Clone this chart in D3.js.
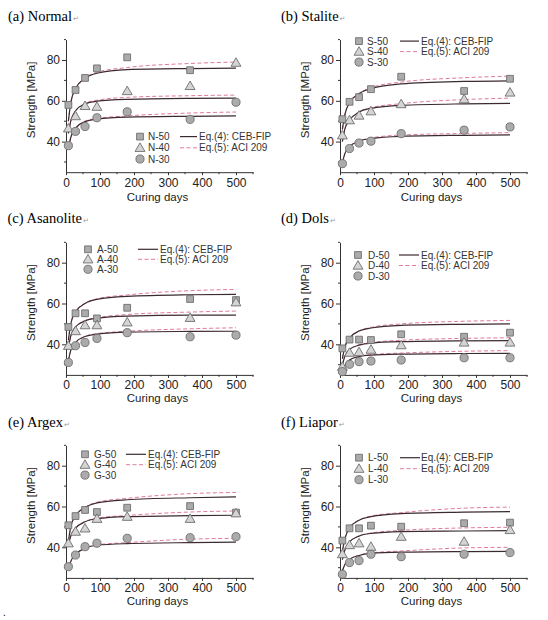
<!DOCTYPE html>
<html><head><meta charset="utf-8">
<script src="https://cdn.jsdelivr.net/npm/d3@7"></script>
<style>body{margin:0;background:#fff}svg{display:block}</style>
</head><body>
<svg id="chart" width="548" height="620"></svg>
<script>
// ---------- data ----------
const panelTitles = ["(a) Normal", "(b) Stalite", "(c) Asanolite", "(d) Dols", "(e) Argex", "(f) Liapor"];
const seriesPrefixes = ["N", "S", "A", "D", "G", "L"];
const gradeLabels = ["50", "40", "30"];
const legendEqLabels = ["Eq.(4): CEB-FIP", "Eq.(5): ACI 209"];
const testDays = [7, 28, 56, 91, 180, 365, 500];
const fitDays = [7, 14, 28, 56, 91, 180, 365, 500];
const xTickValues = [0, 100, 200, 300, 400, 500];
const xMinorTicks = [50, 150, 250, 350, 450, 550];
const yTickValues = [40, 60, 80];
const yMinorTicks = [30, 50, 70, 90];

const normalMeasured = [[58, 65.3, 71.2, 75.9, 81.3, 75, null], [46.5, 52.5, 57.5, 57.1, 64.8, 67.3, 78.7], [38, 45, 47.4, 51.7, 54.6, 50.9, 59.3]];
const normalCEB = [[50, 59, 66, 71, 73.5, 75.3, 75.8, 76], [44, 50, 55, 58.5, 59.8, 60.7, 61.2, 61.3], [36.5, 42, 46.5, 49.8, 51, 52, 52.4, 52.6]];
const normalACI = [[50, 59, 66, 71.2, 74, 76.3, 78.3, 79], [44, 50, 55, 58.7, 60.3, 61.7, 62.5, 62.8], [36.5, 42, 46.5, 50, 51.3, 52.6, 54, 54.5]];

const staliteMeasured = [[51, 59.5, 61.8, 65.7, 71.8, 64.8, 70.8], [43.1, 50.5, 52.8, 54.9, 58.4, 60.8, 64.1], [29.2, 36.6, 39.3, 40.2, 43.9, 45.6, 47.2]];
const staliteCEB = [[46, 53, 59, 63.5, 66, 68.3, 69.5, 69.8], [40, 46, 50.5, 54.5, 56.3, 57.8, 58.5, 58.7], [29.5, 34, 37.5, 40.2, 41.5, 42.6, 43.1, 43.3]];
const staliteACI = [[46, 53, 59, 63.7, 66.4, 69.2, 71.3, 72.1], [40, 46, 50.5, 54.6, 56.6, 58.6, 60.6, 61.3], [29.5, 34, 37.5, 40.3, 41.8, 43.2, 44, 44.4]];

const asanoliteMeasured = [[48.5, 55.2, 55.2, 52.7, 57.9, 62.2, 61.7], [39.3, 46.5, 49.4, 49.4, 50.8, 53, 60.6], [31.1, 39.3, 40.9, 42.9, 45.7, 43.7, 44.5]];
const asanoliteCEB = [[42, 50, 56, 60, 62, 63.5, 64.3, 64.5], [38, 44, 48.5, 51.5, 52.8, 53.8, 54.3, 54.3], [32, 37, 41, 43.8, 45, 46, 46.3, 46.4]];
const asanoliteACI = [[42, 50, 56, 60.2, 62.3, 64.2, 66.3, 66.9], [38, 44, 48.5, 51.6, 53, 54.6, 55.8, 56.3], [32, 37, 41, 43.9, 45.2, 46.4, 47.6, 48.1]];

const dolsMeasured = [[38, 42.3, 42.3, 42.1, 44.9, 43.7, 45.7], [29, 35.9, 36.2, 37.4, 39.6, 40.9, 40.9], [26.6, 30.2, 31.5, 31.8, 32.3, 33.4, 33.4]];
const dolsCEB = [[33, 38.5, 43, 46.5, 48, 49.3, 49.8, 50], [30, 34, 37.5, 39.6, 40.6, 41.3, 41.7, 41.8], [26.5, 29.5, 32.3, 34, 34.7, 35.2, 35.5, 35.6]];
const dolsACI = [[33, 38.5, 43, 46.6, 48.3, 50, 51.3, 51.7], [30, 34, 37.5, 39.7, 40.8, 42, 42.9, 43.2], [26.5, 29.5, 32.3, 34.1, 34.9, 35.7, 36.6, 36.9]];

const argexMeasured = [[50.8, 55.3, 58.3, 57.3, 59.4, 60.2, 57], [42, 47.7, 49.3, 54, 55, 54, 56.7], [30.5, 36.2, 40.3, 42, 44.4, 44.7, 45.2]];
const argexCEB = [[43, 50, 55.5, 59.5, 61.8, 63.3, 64.3, 64.7], [41, 45.5, 49.3, 52.5, 54, 55, 55.5, 55.7], [29, 33, 36.5, 39.5, 41, 41.8, 42.3, 42.5]];
const argexACI = [[43, 50, 55.5, 59.7, 62.1, 64, 66.3, 66.9], [41, 45.5, 49.3, 52.6, 54.3, 55.6, 57.3, 57.8], [29, 33, 36.5, 39.6, 41.2, 42.3, 44, 44.4]];

const liaporMeasured = [[43.3, 49.3, 49.3, 50.6, 50.1, 51.8, 52.1], [36.7, 41.1, 42, 40.3, 45.2, 42.8, 48.5], [26.8, 32.5, 33.5, 36.6, 35.4, 36.6, 37.4]];
const liaporCEB = [[38, 44, 49.5, 53.3, 55, 56.5, 57.2, 57.5], [34, 38.5, 42.5, 45.5, 46.8, 47.7, 48, 48.2], [28.5, 31.5, 34, 36, 37, 37.6, 37.9, 38]];
const liaporACI = [[38, 44, 49.5, 53.4, 55.3, 57, 59.2, 59.7], [34, 38.5, 42.5, 45.6, 47, 48.3, 49.5, 49.8], [28.5, 31.5, 34, 36.1, 37.2, 38.2, 39.7, 40]];

const measuredSets = [normalMeasured, staliteMeasured, asanoliteMeasured, dolsMeasured, argexMeasured, liaporMeasured];
const cebSets = [normalCEB, staliteCEB, asanoliteCEB, dolsCEB, argexCEB, liaporCEB];
const aciSets = [normalACI, staliteACI, asanoliteACI, dolsACI, argexACI, liaporACI];

// ---------- layout ----------
const colX = [66, 340];
const rowTop = [39.6, 242.3, 445.3];
const titlePos = [[8, 21], [281, 20.5], [7.5, 223], [281, 223], [8, 426.5], [281, 426.5]];
// legend: [markerX, labelX, lineX1, lineX2, eqX, row0Y, rowStep] relative to plot origin
const legendLayout = [
  [74, 82, 114, 131, 133, 97, 11.2],
  [19, 27, 60, 79, 81, 1.5, 10.5],
  [22, 31, 72, 92, 94, 7, 10],
  [18, 28, 59, 79, 81, 12.7, 10.5],
  [19, 28, 60, 80, 82, 9, 10.4],
  [19, 28, 60, 80, 81, 12.4, 11]
];
const plotW = 187, plotH = 132.6;
const markerFill = "#ababab", markerStroke = "#6e6e6e", triFill = "#d4d4d4";
const solidColor = "#3b2a30", dashColor = "#e27b95";

const svg = d3.select("#chart");
const x = d3.scaleLinear().domain([0, 550]).range([0, plotW]);
const y = d3.scaleLinear().domain([25, 90]).range([plotH, 0]);
const symbols = [d3.symbolSquare, d3.symbolTriangle, d3.symbolCircle];
const symSizes = [46, 42, 52];

function drawMarker(g, k, cx, cy) {
  g.append("path")
    .attr("d", d3.symbol().type(symbols[k]).size(symSizes[k])())
    .attr("transform", `translate(${cx},${cy})` + (k === 1 ? " translate(0,0.8)" : ""))
    .attr("fill", k === 1 ? triFill : markerFill)
    .attr("stroke", markerStroke)
    .attr("stroke-width", 0.9);
}

panelTitles.forEach((title, p) => {
  const ox = colX[p % 2], oy = rowTop[Math.floor(p / 2)];
  const g = svg.append("g").attr("transform", `translate(${ox},${oy})`);

  // title
  const t = svg.append("text").attr("x", titlePos[p][0]).attr("y", titlePos[p][1])
    .attr("font-family", "'Liberation Serif','Times New Roman',serif").attr("font-size", 14.5).attr("fill", "#000")
    .text(title);
  t.append("tspan").attr("font-family", "'DejaVu Sans',sans-serif").attr("font-size", 7).attr("fill", "#999").attr("dx", 1).text("↵");

  // axes
  const xa = g.append("g").attr("transform", `translate(0,${plotH})`)
    .call(d3.axisBottom(x).tickValues(xTickValues).tickSize(3).tickSizeOuter(0).tickPadding(3));
  const ya = g.append("g")
    .call(d3.axisLeft(y).tickValues(yTickValues).tickSize(4).tickSizeOuter(0).tickPadding(2));
  [xa, ya].forEach(a => {
    a.selectAll("text").attr("font-family", "'Liberation Sans',Arial,sans-serif").attr("font-size", 12).attr("fill", "#222");
    a.selectAll("line,path").attr("stroke", "#333");
  });
  xMinorTicks.forEach(v => g.append("line").attr("x1", x(v)).attr("x2", x(v)).attr("y1", plotH).attr("y2", plotH + 2).attr("stroke", "#333"));
  yMinorTicks.forEach(v => g.append("line").attr("x1", 0).attr("x2", -2).attr("y1", y(v)).attr("y2", y(v)).attr("stroke", "#333"));

  // axis titles
  g.append("text").attr("x", plotW / 2 - 2).attr("y", plotH + (p < 2 ? 29 : 27.5)).attr("text-anchor", "middle")
    .attr("font-family", "'Liberation Sans',Arial,sans-serif").attr("font-size", 11.5).attr("fill", "#222").text("Curing days");
  g.append("text").attr("transform", `translate(${-31},${plotH / 2 - 6}) rotate(-90)`).attr("text-anchor", "middle")
    .attr("font-family", "'Liberation Sans',Arial,sans-serif").attr("font-size", 11.5).attr("fill", "#222").text("Strength [MPa]");

  // fitted curves
  const line = d3.line().defined(d => d[1] != null).x(d => x(d[0])).y(d => y(d[1])).curve(d3.curveMonotoneX);
  aciSets[p].forEach(vals => {
    g.append("path").attr("d", line(fitDays.map((dd, i) => [dd, vals[i]])))
      .attr("fill", "none").attr("stroke", dashColor).attr("stroke-width", 1).attr("stroke-dasharray", "4,2.5");
  });
  cebSets[p].forEach(vals => {
    g.append("path").attr("d", line(fitDays.map((dd, i) => [dd, vals[i]])))
      .attr("fill", "none").attr("stroke", solidColor).attr("stroke-width", 1.2);
  });

  // measured points
  measuredSets[p].forEach((vals, k) => {
    vals.forEach((v, i) => { if (v != null) drawMarker(g, k, x(testDays[i]), y(v)); });
  });

  // legend
  const L = legendLayout[p];
  gradeLabels.forEach((gr, k) => {
    const ry = L[5] + k * L[6];
    drawMarker(g, k, L[0], ry);
    g.append("text").attr("x", L[1]).attr("y", ry).attr("dy", "0.36em")
      .attr("font-family", "'Liberation Sans',Arial,sans-serif").attr("font-size", 10).attr("fill", "#333")
      .text(seriesPrefixes[p] + "-" + gr);
  });
  legendEqLabels.forEach((lab, k) => {
    const ry = L[5] + k * L[6];
    g.append("line").attr("x1", L[2]).attr("x2", L[3]).attr("y1", ry).attr("y2", ry)
      .attr("stroke", k === 0 ? solidColor : dashColor).attr("stroke-width", k === 0 ? 1.2 : 1)
      .attr("stroke-dasharray", k === 0 ? null : "4,2.5");
    g.append("text").attr("x", L[4]).attr("y", ry).attr("dy", "0.36em")
      .attr("font-family", "'Liberation Sans',Arial,sans-serif").attr("font-size", 10).attr("fill", "#333")
      .text(lab);
  });
});
svg.append("text").attr("x", 3).attr("y", 616).attr("font-size", 10).attr("font-family", "'Liberation Sans',Arial,sans-serif").attr("fill", "#000").text(".");
</script>
</body></html>
